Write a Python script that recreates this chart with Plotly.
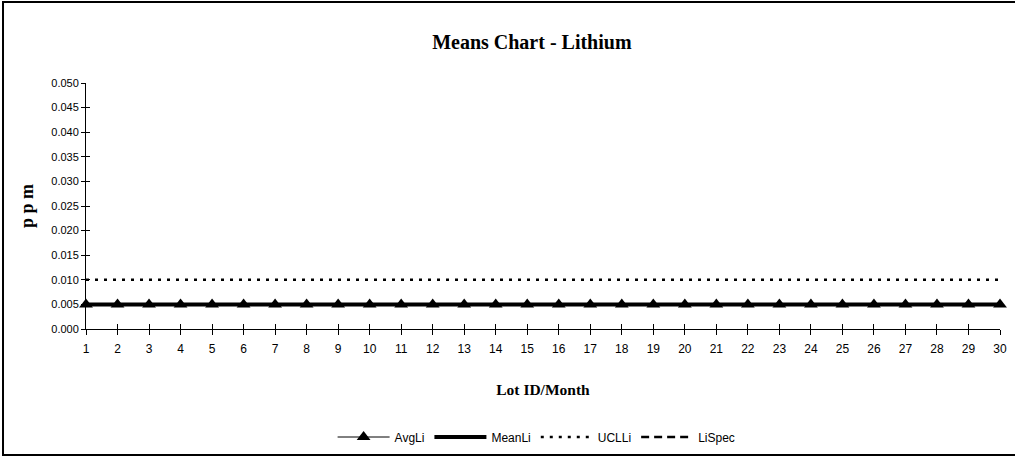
import plotly.graph_objects as go

# Lot IDs along the x axis
lots = list(range(1, 31))

# series values (ppm)
avg_li = [0.005] * 30
mean_li = [0.005] * 30
ucl_li = [0.010] * 30
li_spec = [None] * 30  # spec line lies off the plotted range

y_ticks = [0.000, 0.005, 0.010, 0.015, 0.020, 0.025, 0.030, 0.035, 0.040, 0.045, 0.050]
y_tick_text = ["%.3f" % v for v in y_ticks]

sans = "Liberation Sans Narrow, Arial Narrow, Liberation Sans, Arial"
serif = "Liberation Serif, Times New Roman, serif"

fig = go.Figure()

fig.add_trace(go.Scatter(x=lots, y=avg_li, name="AvgLi", mode="lines+markers",
                         line=dict(color="black", width=1),
                         marker=dict(symbol="triangle-up", size=12, color="black"),
                         cliponaxis=False))
fig.add_trace(go.Scatter(x=lots, y=mean_li, name="MeanLi", mode="lines",
                         line=dict(color="black", width=4), cliponaxis=False))
fig.add_trace(go.Scatter(x=lots, y=ucl_li, name="UCLLi", mode="lines",
                         line=dict(color="black", width=2.5, dash="3px,6px"), cliponaxis=False))
fig.add_trace(go.Scatter(x=lots, y=li_spec, name="LiSpec", mode="lines",
                         line=dict(color="black", width=2.5, dash="8px,5px")))

# invisible helper trace so the inside-tick axes exist (ticks cross the axis lines)
fig.add_trace(go.Scatter(x=lots, y=avg_li, xaxis="x2", yaxis="y2", mode="none",
                         showlegend=False, hoverinfo="skip"))

fig.update_layout(
    width=1015, height=457,
    margin=dict(l=86, r=15, t=83, b=128, autoexpand=False),
    paper_bgcolor="white", plot_bgcolor="white",
    title=dict(text="<b>Means Chart - Lithium</b>", x=0.524, xanchor="center",
               y=0.908, yanchor="middle",
               font=dict(family=serif, size=20, color="black")),
    xaxis=dict(range=[1, 30], tickmode="array", tickvals=lots, ticktext=[str(v) for v in lots],
               showline=True, linecolor="black", linewidth=1, showgrid=False, zeroline=False,
               ticks="outside", ticklen=5, tickcolor="black", tickwidth=1,
               ticklabelstandoff=4,
               tickfont=dict(family=sans, size=12, color="black"),
               title=dict(text="<b>Lot ID/Month</b>", standoff=28,
                          font=dict(family=serif, size=15.5, color="black"))),
    yaxis=dict(range=[0, 0.05], tickmode="array", tickvals=y_ticks, ticktext=y_tick_text,
               showline=True, linecolor="black", linewidth=1, showgrid=False, zeroline=False,
               ticks="outside", ticklen=4, tickcolor="black", tickwidth=1,
               tickfont=dict(family=sans, size=11, color="black"),
               title=dict(text="<b>p p m</b>", standoff=12,
                          font=dict(family=serif, size=18, color="black"))),
    xaxis2=dict(range=[1, 30], overlaying="x", tickmode="array", tickvals=lots,
                showticklabels=False, ticks="inside", ticklen=5, tickcolor="black",
                showgrid=False, zeroline=False, showline=False),
    yaxis2=dict(range=[0, 0.05], overlaying="y", tickmode="array", tickvals=y_ticks,
                showticklabels=False, ticks="inside", ticklen=4, tickcolor="black",
                showgrid=False, zeroline=False, showline=False),
    legend=dict(orientation="h", x=0.493, xanchor="center",
                yref="container", y=1 - 437 / 457, yanchor="middle",
                font=dict(family=sans, size=12, color="black"),
                itemwidth=52, tracegroupgap=0),
    showlegend=True,
    shapes=[dict(type="rect", xref="paper", yref="paper",
                 x0=-0.0908, x1=1.08, y0=-0.512, y1=1.329,
                 line=dict(color="black", width=2))],
)

# drop the default page margin so the figure sits at the window's top-left corner
fig.write_html("out.html", config={"displayModeBar": False},
               post_script="document.body.style.margin='0';")
